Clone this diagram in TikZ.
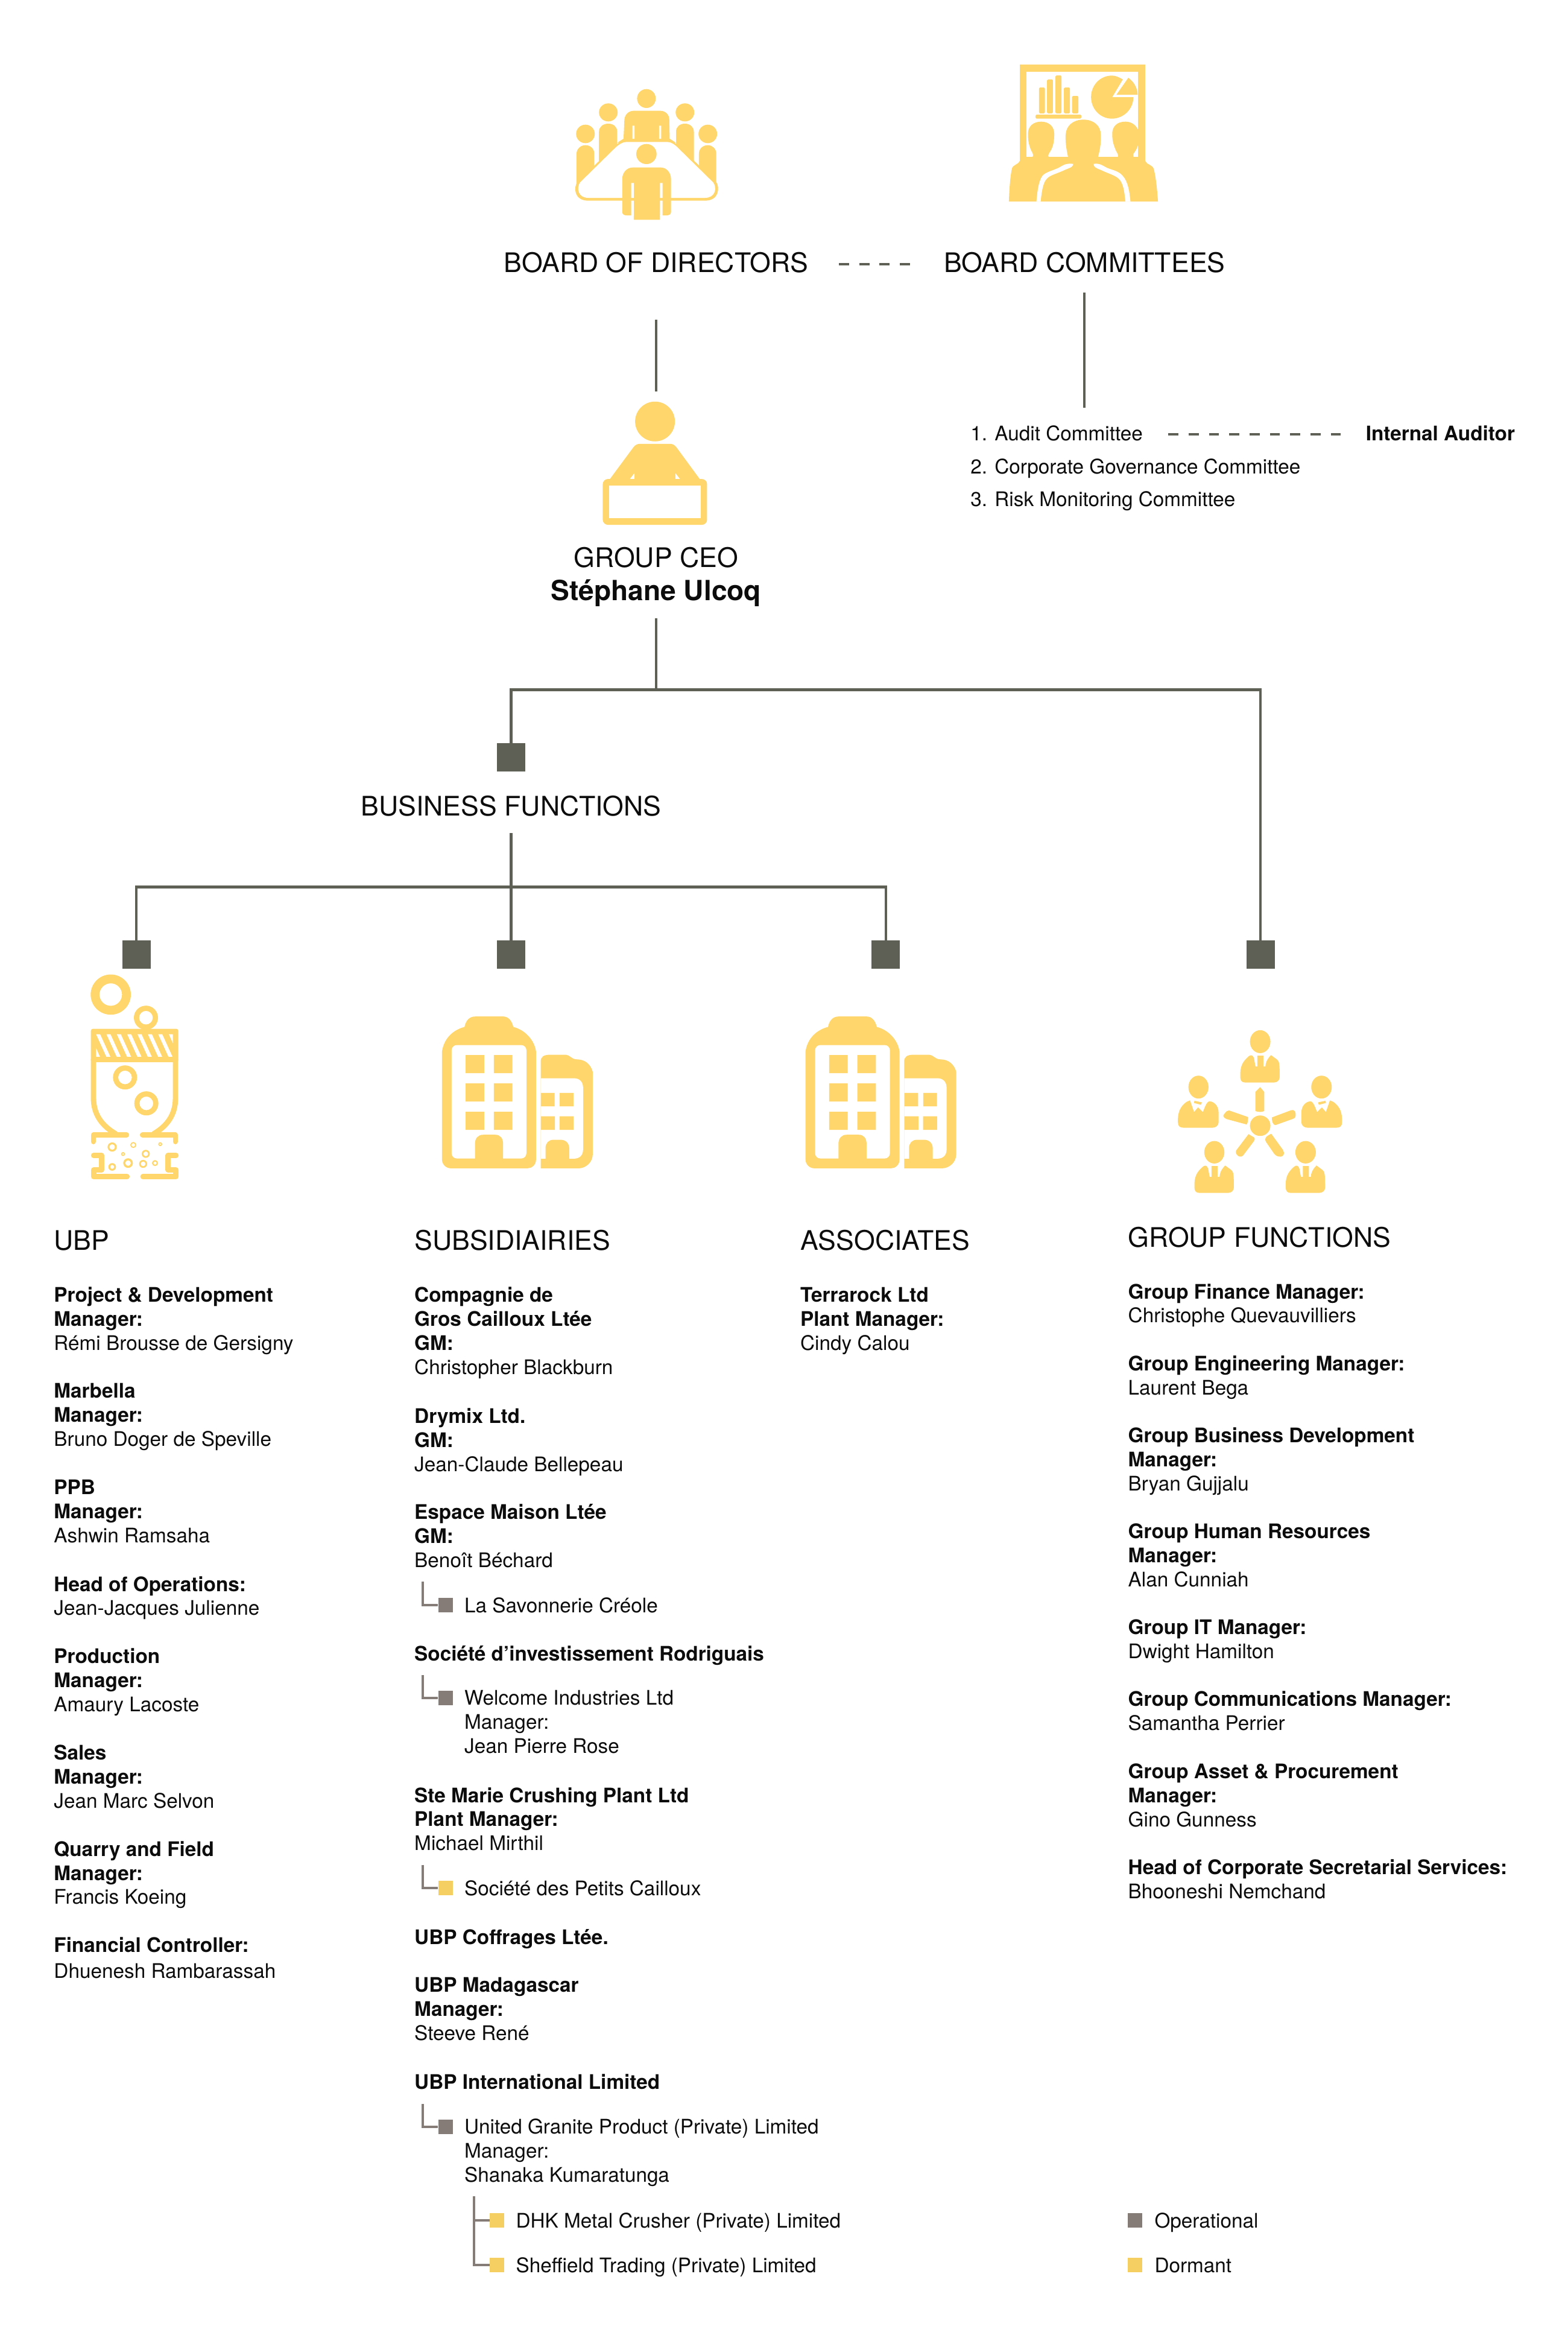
\documentclass[tikz,border=0pt]{standalone}
\usepackage{fontspec}
\setmainfont{TeX Gyre Heros}
\definecolor{iconc}{HTML}{FFD66B}
\definecolor{linec}{HTML}{5F6055}
\definecolor{opc}{HTML}{857C78}
\definecolor{dorc}{HTML}{F6CF62}
\definecolor{txtc}{HTML}{0C0C0C}
\tikzset{
  txt/.style={anchor=north west,inner sep=0pt,align=left,text=txtc,yshift=14pt,font={\fontsize{19.15}{22.93}\selectfont}},
  headtxt/.style={anchor=base west,inner sep=0pt,text=txtc,font={\fontsize{25.65}{29}\selectfont}},
  headc/.style={headtxt,anchor=base},
  conn/.style={draw=linec,line width=2.5pt},
  dashconn/.style={draw=linec,line width=2.3pt,dash pattern=on 9.67pt off 9.68pt},
  sub/.style={draw=opc,line width=2.3pt},
  bigsq/.style={fill=linec,inner sep=0pt,minimum size=27pt},
  opsq/.style={fill=opc,inner sep=0pt,minimum size=13.8pt},
  dorsq/.style={fill=dorc,inner sep=0pt,minimum size=13.8pt},
}
\newcommand{\blk}[4]{\node[txt] (#1) at (#2,{#3+4.8}) {\rule{0pt}{14pt}#4};}
\newcommand{\bl}[1]{\textbf{#1}}
\newcommand{\ringat}[4]{\fill[iconc,even odd rule] (#1,#2) circle[radius=#3] (#1,#2) circle[radius=#4];}
\newcommand{\suitA}[2]{\begin{scope}[shift={(#1,#2)}]
 \fill[iconc] (-98,110) .. controls (-100,60) and (-90,35) .. (-55,5) .. controls (-45,-3) and (-35,0) .. (-30,15) .. controls (-27,30) and (-25,45) .. (-22,57) -- (-13,57) -- (-13,3) -- (17,3) -- (17,57) -- (27,57) .. controls (27,40) and (35,20) .. (55,0) -- (85,22) .. controls (97,30) and (98,50) .. (98,110) .. controls (98,125) and (85,136) .. (70,136) -- (-75,136) .. controls (-90,136) and (-98,125) .. (-98,110) -- cycle;
\end{scope}}
\newcommand{\suitB}[3]{\begin{scope}[shift={(#1,#2)},xscale=#3]
 \fill[iconc] (-102,110) .. controls (-105,60) and (-90,30) .. (-60,8) -- (-42,0) -- (-22,58) -- (-2,35) -- (22,58) .. controls (30,40) and (40,5) .. (55,5) .. controls (75,5) and (100,25) .. (100,60) -- (100,110) .. controls (100,125) and (85,136) .. (70,136) -- (-75,136) .. controls (-95,136) and (-102,125) .. (-102,110) -- cycle;
 \fill[iconc] (-20,2) -- (17,10) -- (13,22) -- (-22,13) -- cycle;
\end{scope}}
\begin{document}
\begin{tikzpicture}[x=0.05cm,y=-0.05cm]
\useasboundingbox (0,0) rectangle (1050,1567.9);

% ---------- board of directors icon
\begin{scope}[shift={(362.95,32.32)},xscale=0.28368,yscale=0.13468]
 \fill[iconc] (247,250) ellipse[x radius=22,y radius=47];
 \fill[iconc] (157,319) ellipse[x radius=22,y radius=45];
 \fill[iconc] (338,319) ellipse[x radius=22,y radius=45];
 \fill[iconc] (103,426) ellipse[x radius=22,y radius=46];
 \fill[iconc] (392,426) ellipse[x radius=22,y radius=46];
 % back person
 \fill[iconc] (178,470) -- (193,450) -- (195,355) .. controls (196,330) and (205,311) .. (217,311) -- (280,311) .. controls (292,311) and (301,330) .. (301,355) -- (302,450) -- (317,470) -- cycle;
 \fill[white] (214,385) rectangle (219,450) (277,385) rectangle (282,450);
 % side persons
 \fill[iconc] (135,580) -- (135,415) .. controls (135,390) and (145,375) .. (157,375) .. controls (169,375) and (178,390) .. (178,415) -- (178,490) -- cycle;
 \fill[iconc] (359,580) -- (359,415) .. controls (359,390) and (349,375) .. (338,375) .. controls (326,375) and (317,390) .. (317,415) -- (317,490) -- cycle;
 \fill[iconc] (82,690) -- (82,525) .. controls (82,500) and (92,482) .. (103,482) .. controls (115,482) and (124,500) .. (124,525) -- (124,600) -- cycle;
 \fill[iconc] (412,690) -- (412,525) .. controls (412,500) and (403,482) .. (392,482) .. controls (380,482) and (371,500) .. (371,525) -- (371,600) -- cycle;
 % table
 \fill[iconc] (200,459) -- (296,459) .. controls (310,459) and (318,475) .. (325,490) -- (412,665) .. controls (420,690) and (420,758) .. (385,758) -- (110,758) .. controls (75,758) and (75,690) .. (84,665) -- (170,490) .. controls (178,475) and (186,459) .. (200,459) -- cycle;
 \fill[white] (200,466) -- (296,466) .. controls (306,466) and (314,480) .. (320,492) -- (405,668) .. controls (414,695) and (410,744) .. (385,744) -- (110,744) .. controls (85,744) and (82,695) .. (90,668) -- (175,492) .. controls (182,480) and (190,466) .. (200,466) -- cycle;
 % front person
 \fill[iconc] (247,526) ellipse[x radius=24,y radius=50];
 \fill[iconc] (190,815) -- (190,650) .. controls (190,620) and (200,593) .. (215,593) -- (281,593) .. controls (295,593) and (305,620) .. (305,650) -- (305,815) .. controls (305,826) and (300,831) .. (295,831) -- (279,831) -- (279,853) -- (217,853) -- (217,831) -- (200,831) .. controls (195,831) and (190,826) .. (190,815) -- cycle;
 \fill[white] (211,670) rectangle (217,744) (279,670) rectangle (285,744) (211,758) rectangle (217,834) (279,758) rectangle (285,834);
\end{scope}

% ---------- board committees icon
\begin{scope}[shift={(362.95,32.32)},xscale=0.28368,yscale=0.13468]
 \fill[iconc] (1129,82) rectangle (1425,578);
 \fill[white] (1144,117) rectangle (1408,540);
 \fill[iconc] (1103,762) .. controls (1104,700) and (1106,640) .. (1110,600) .. controls (1112,578) and (1125,580) .. (1129,560) -- (1425,560) .. controls (1428,580) and (1442,578) .. (1445,600) .. controls (1450,640) and (1453,700) .. (1455,762) -- cycle;
 \fill[iconc] (1158,545) .. controls (1162,530) and (1160,525) .. (1156,510) .. controls (1150,480) and (1148,460) .. (1148,425) .. controls (1148,390) and (1160,365) .. (1179,365) .. controls (1198,365) and (1210,390) .. (1210,425) .. controls (1210,460) and (1208,490) .. (1200,515) .. controls (1195,530) and (1195,535) .. (1198,545) -- cycle;
 \fill[iconc] (1243,545) .. controls (1240,510) and (1236,480) .. (1237,430) .. controls (1238,385) and (1255,355) .. (1279,355) .. controls (1303,355) and (1320,385) .. (1320,430) .. controls (1321,480) and (1317,510) .. (1313,545) -- cycle;
 \fill[iconc] (1360,545) .. controls (1362,530) and (1360,525) .. (1356,510) .. controls (1350,480) and (1347,460) .. (1347,425) .. controls (1347,390) and (1358,365) .. (1378,365) .. controls (1392,365) and (1402,380) .. (1408,405) -- (1408,480) .. controls (1405,505) and (1400,515) .. (1397,525) .. controls (1396,535) and (1397,540) .. (1398,545) -- cycle;
 \fill[white] (1255,575) .. controls (1235,570) and (1230,585) .. (1220,595) .. controls (1205,610) and (1190,615) .. (1182,635) .. controls (1172,665) and (1170,720) .. (1168,762) -- (1178,762) .. controls (1180,720) and (1183,670) .. (1192,650) .. controls (1200,630) and (1215,625) .. (1235,605) .. controls (1250,592) and (1254,590) .. (1255,575) -- cycle;
 \fill[white] (1303,575) .. controls (1318,570) and (1325,585) .. (1335,595) .. controls (1350,608) and (1362,610) .. (1372,635) .. controls (1385,665) and (1388,720) .. (1390,762) -- (1378,762) .. controls (1376,720) and (1374,670) .. (1362,648) .. controls (1352,630) and (1340,625) .. (1320,605) .. controls (1308,595) and (1303,590) .. (1303,575) -- cycle;
 \foreach \a/\b/\c in {1174/1188/195,1193/1207/155,1213/1227/135,1233/1247/195,1252/1267/237} {\fill[iconc,rounded corners=1pt] (\a,\c) rectangle (\b,324);}
 \fill[iconc,rounded corners=1pt] (1166,330) rectangle (1274,350);
 \fill[iconc] (1347,243) -- (1372,155) .. controls (1362,143) and (1355,136) .. (1346,136) .. controls (1318,136) and (1297,185) .. (1297,243) .. controls (1297,300) and (1318,350) .. (1346,350) .. controls (1375,350) and (1397,300) .. (1397,243) -- cycle;
 \fill[iconc] (1357,231) -- (1385,147) .. controls (1398,165) and (1407,200) .. (1407,231) -- cycle;
\end{scope}

% ---------- CEO icon
\begin{scope}[shift={(383.84,258.59)},scale=0.13468]
 \fill[iconc] (408,176) circle[radius=99];
 \fill[iconc] (178,470) -- (300,305) .. controls (310,292) and (320,287) .. (335,287) -- (480,287) .. controls (495,287) and (505,292) .. (515,305) -- (636,470) -- cycle;
 \fill[white] (283,462) -- (305,462) -- (305,434) -- cycle;
 \fill[white] (510,462) -- (532,462) -- (510,434) -- cycle;
 \fill[iconc,rounded corners=5pt] (148,462) rectangle (667,690);
 \fill[white] (180,495) rectangle (636,657);
\end{scope}

% ---------- UBP icon
\begin{scope}[shift={(48.48,646.46)},scale=0.13468]
 \ringat{191}{146}{100}{56}
 \ringat{366}{261}{60}{34}
 \ringat{262}{558}{60}{34}
 \ringat{368}{687}{60}{34}
 \ringat{198}{904}{23}{14}
 \ringat{303}{894}{15}{9}
 \ringat{437}{890}{10}{5}
 \ringat{252}{939}{10}{5}
 \ringat{365}{938}{20}{12}
 \ringat{277}{984}{24}{14}
 \ringat{352}{988}{20}{12}
 \ringat{411}{984}{15}{8}
 \ringat{198}{1003}{19}{10}
 \fill[iconc,rounded corners=2pt] (92,316) rectangle (527,482);
 \foreach \i in {0,...,6} {\fill[white] ({118+51.5*\i},343) -- ({138+51.5*\i},343) -- ({189+51.5*\i},455) -- ({169+51.5*\i},455) -- cycle;}
 \fill[white] (480,343) -- (500,343) -- (500,388) -- cycle;
 \fill[white] (118,412) -- (137,455) -- (118,455) -- cycle;
 \begin{scope}[iconc,line width=5.1pt,line cap=round,line join=round]
  \draw (105,470) -- (105,660) .. controls (105,745) and (150,800) .. (215,838);
  \draw (513,470) -- (513,660) .. controls (513,745) and (470,800) .. (405,838);
  \draw (105,877) -- (105,844) -- (269,844);
  \draw (513,877) -- (513,844) -- (349,844);
  \draw (106,946) -- (146,946) -- (146,1018) -- (106,1018) -- (106,1052) -- (272,1052);
  \draw (515,946) -- (476,946) -- (476,1018) -- (515,1018) -- (515,1052) -- (351,1052);
 \end{scope}
\end{scope}

% ---------- building icons
\foreach \dx in {0,243.5} {
\begin{scope}[shift={({282.6+\dx},670.71)},scale=0.13468]
 \fill[iconc] (100,785) -- (100,250) .. controls (110,180) and (160,140) .. (212,127) .. controls (220,90) and (240,75) .. (265,75) -- (405,75) .. controls (430,75) and (447,95) .. (455,127) .. controls (510,140) and (560,190) .. (568,250) -- (568,785) .. controls (568,815) and (545,830) .. (525,830) -- (145,830) .. controls (120,830) and (100,810) .. (100,785) -- cycle;
 \fill[white,rounded corners=5pt] (148,217) rectangle (520,781);
 \fill[iconc] (264,785) -- (264,710) .. controls (264,680) and (280,663) .. (305,663) -- (365,663) .. controls (390,663) and (404,680) .. (404,710) -- (404,785) -- cycle;
 \fill[iconc] (218,267) rectangle (310,357) (358,267) rectangle (450,357) (218,408) rectangle (310,498) (358,408) rectangle (450,498) (218,549) rectangle (310,639) (358,549) rectangle (450,639);
 \fill[iconc] (591,830) -- (591,300) .. controls (591,275) and (605,265) .. (640,265) -- (715,265) .. controls (735,265) and (745,288) .. (770,288) .. controls (815,288) and (840,315) .. (850,350) -- (850,760) .. controls (850,800) and (815,830) .. (780,830) -- cycle;
 \fill[white] (591,382) -- (755,382) .. controls (785,382) and (802,400) .. (802,430) -- (802,735) .. controls (802,765) and (785,782) .. (755,782) -- (591,782) -- cycle;
 \fill[iconc] (615,785) -- (615,730) .. controls (615,705) and (630,688) .. (655,688) -- (690,688) .. controls (715,688) and (733,705) .. (733,730) -- (733,785) -- cycle;
 \fill[iconc] (592,455) rectangle (660,522) (686,455) rectangle (754,522) (592,571) rectangle (662,639) (685,571) rectangle (755,639);
\end{scope}
}

% ---------- group functions icon
\begin{scope}[shift={(783.3,682.83)},scale=0.13468]
 \fill[iconc] (452,110) ellipse[x radius=51,y radius=57];
 \fill[iconc] (145,336) ellipse[x radius=50,y radius=57];
 \fill[iconc] (757,336) ellipse[x radius=51,y radius=57];
 \fill[iconc] (224,660) ellipse[x radius=50,y radius=56];
 \fill[iconc] (678,660) ellipse[x radius=51,y radius=56];
 \suitA{451}{177}
 \suitB{145}{402}{1}
 \suitB{757}{402}{-1}
 \suitA{223}{726}
 \suitA{677}{726}
 \fill[iconc] (452,528) circle[radius=51];
 \fill[iconc] (428,455) -- (428,360) -- (452,336) -- (472,360) -- (472,455) .. controls (460,462) and (440,460) .. (428,455) -- cycle;
 \fill[iconc] (297,452) -- (392,485) .. controls (392,500) and (390,515) .. (385,522) -- (285,495) .. controls (265,485) and (265,478) .. (275,468) .. controls (282,458) and (288,452) .. (297,452) -- cycle;
 \fill[iconc] (510,487) -- (603,452) .. controls (625,445) and (630,460) .. (628,480) .. controls (626,490) and (620,492) .. (615,494) -- (528,525) .. controls (515,525) and (510,505) .. (510,487) -- cycle;
 \fill[iconc] (394,570) -- (420,585) .. controls (428,592) and (425,600) .. (420,606) -- (368,675) .. controls (355,692) and (325,675) .. (332,652) -- cycle;
 \fill[iconc] (507,568) -- (565,648) .. controls (575,665) and (570,680) .. (555,682) .. controls (540,682) and (530,678) .. (522,668) -- (482,610) .. controls (470,590) and (480,582) .. (507,568) -- cycle;
\end{scope}

% ---------- large squares
\node[bigsq] (sqbf) at (342.4,507.3) {};
\node[bigsq] (squbp) at (91.4,639.3) {};
\node[bigsq] (sqsub) at (342.4,639.3) {};
\node[bigsq] (sqass) at (593.4,639.3) {};
\node[bigsq] (sqgf) at (844.4,639.3) {};

% ---------- headings
\node[headc] (bod) at (439.5,182.3) {BOARD OF DIRECTORS};
\node[headc] (bc) at (726.5,182.3) {BOARD COMMITTEES};
\node[headc] (ceo) at (439.5,379.8) {GROUP CEO};
\node[headc] (ceoname) at (439.5,402) {\fontsize{26.5}{29}\selectfont\textbf{Stéphane Ulcoq}};
\node[headc] (bf) at (342.4,546.3) {BUSINESS FUNCTIONS};
\node[headtxt] (ubp) at (36,837.3) {UBP};
\node[headtxt] (subs) at (277.5,837.3) {SUBSIDIAIRIES};
\node[headtxt] (assoc) at (536,837.3) {ASSOCIATES};
\node[headtxt] (gf) at (755.6,835.3) {GROUP FUNCTIONS};

% ---------- connectors
\coordinate (a1) at (439.5,214); \coordinate (a2) at (439.5,262);
\coordinate (b1) at (726.5,196); \coordinate (b2) at (726.5,273);
\coordinate (c1) at (439.5,414); \coordinate (c2) at (439.5,462);
\coordinate (d1) at (342.4,558); \coordinate (d2) at (342.4,594);
\coordinate (e1) at (562,177); \coordinate (e2) at (609.5,177);
\coordinate (f1) at (782.6,290.7); \coordinate (f2) at (898.2,290.7);
\draw[conn] (a1) -- (a2);
\draw[conn] (b1) -- (b2);
\draw[conn] (c1) -- (c2);
\draw[conn,line join=miter] (sqbf.north) |- (c2) -| (sqgf.north);
\draw[conn] (d1) -- (sqsub.north);
\draw[conn,line join=miter] (squbp.north) |- (d2) -| (sqass.north);
\draw[dashconn] (e1) -- (e2);
\draw[dashconn] (f1) -- (f2);

% ---------- committees
\blk{cm1}{650}{290}{1. Audit Committee}
\blk{cm2}{650}{312}{2. Corporate Governance Committee}
\blk{cm3}{650}{334}{3. Risk Monitoring Committee}
\blk{ia}{914.8}{290}{\bl{Internal Auditor}}

% ---------- UBP column
\blk{u1}{36}{867}{\bl{Project \& Development}\\\bl{Manager:}\\Rémi Brousse de Gersigny}
\blk{u2}{36}{931.5}{\bl{Marbella}\\\bl{Manager:}\\Bruno Doger de Speville}
\blk{u3}{36}{996}{\bl{PPB}\\\bl{Manager:}\\Ashwin Ramsaha}
\blk{u4}{36}{1060.6}{\bl{Head of Operations:}\\Jean-Jacques Julienne}
\blk{u5}{36}{1109}{\bl{Production}\\\bl{Manager:}\\Amaury Lacoste}
\blk{u6}{36}{1173.5}{\bl{Sales}\\\bl{Manager:}\\Jean Marc Selvon}
\blk{u7}{36}{1238}{\bl{Quarry and Field}\\\bl{Manager:}\\Francis Koeing}
\blk{u8}{36}{1302.2}{\bl{Financial Controller:}}
\blk{u8b}{36}{1320}{Dhuenesh Rambarassah}

% ---------- subsidiaries column
\blk{s1}{277.5}{867}{\bl{Compagnie de}\\\bl{Gros Cailloux Ltée}\\\bl{GM:}\\Christopher Blackburn}
\blk{s2}{277.5}{948}{\bl{Drymix Ltd.}\\\bl{GM:}\\Jean-Claude Bellepeau}
\blk{s3}{277.5}{1012.2}{\bl{Espace Maison Ltée}\\\bl{GM:}\\Benoît Béchard}
\blk{s3a}{311}{1075}{La Savonnerie Créole}
\blk{s4}{277.5}{1107}{\bl{Société d’investissement Rodriguais}}
\blk{s4a}{311}{1137}{Welcome Industries Ltd\\Manager:\\Jean Pierre Rose}
\blk{s5}{277.5}{1202}{\bl{Ste Marie Crushing Plant Ltd}\\\bl{Plant Manager:}\\Michael Mirthil}
\blk{s5a}{311}{1264.3}{Société des Petits Cailloux}
\blk{s6}{277.5}{1297}{\bl{UBP Coffrages Ltée.}}
\blk{s7}{277.5}{1329.3}{\bl{UBP Madagascar}\\\bl{Manager:}\\Steeve René}
\blk{s8}{277.5}{1394}{\bl{UBP International Limited}}
\blk{s8a}{311}{1424}{United Granite Product (Private) Limited\\Manager:\\Shanaka Kumaratunga}
\blk{s8b}{345.5}{1487}{DHK Metal Crusher (Private) Limited}
\blk{s8c}{345.5}{1517}{Sheffield Trading (Private) Limited}

% ---------- subsidiaries tree marks
\node[opsq] (q3) at (298.4,1074.9) {};
\node[opsq] (q4) at (298.4,1137.3) {};
\node[dorsq] (q5) at (298.4,1264.5) {};
\node[opsq] (q8) at (298.4,1424.3) {};
\node[dorsq] (q8b) at (333,1487) {};
\node[dorsq] (q8c) at (333,1517) {};
\coordinate (t3) at (283.2,1059.4);
\coordinate (t4) at (283.2,1122);
\coordinate (t5) at (283.2,1249);
\coordinate (t8) at (283.2,1409);
\coordinate (t8b) at (317.7,1471);
\coordinate (t8j) at (317.7,1487);
\draw[sub] (t3) |- (q3);
\draw[sub] (t4) |- (q4);
\draw[sub] (t5) |- (q5);
\draw[sub] (t8) |- (q8);
\draw[sub] (t8b) |- (q8c);
\draw[sub] (t8j) -- (q8b);

% ---------- associates
\blk{a1t}{536}{867}{\bl{Terrarock Ltd}\\\bl{Plant Manager:}\\Cindy Calou}

% ---------- group functions
\blk{g1}{755.6}{864.7}{\bl{Group Finance Manager:}\\Christophe Quevauvilliers}
\blk{g2}{755.6}{912.9}{\bl{Group Engineering Manager:}\\Laurent Bega}
\blk{g3}{755.6}{961}{\bl{Group Business Development}\\\bl{Manager:}\\Bryan Gujjalu}
\blk{g4}{755.6}{1025.2}{\bl{Group Human Resources}\\\bl{Manager:}\\Alan Cunniah}
\blk{g5}{755.6}{1089.5}{\bl{Group IT Manager:}\\Dwight Hamilton}
\blk{g6}{755.6}{1137.7}{\bl{Group Communications Manager:}\\Samantha Perrier}
\blk{g7}{755.6}{1186}{\bl{Group Asset \& Procurement}\\\bl{Manager:}\\Gino Gunness}
\blk{g8}{755.6}{1250.3}{\bl{Head of Corporate Secretarial Services:}\\Bhooneshi Nemchand}

% ---------- legend
\node[opsq] (lg1) at (760.3,1487) {};
\node[dorsq] (lg2) at (760.3,1517) {};
\blk{lg1t}{773.3}{1487}{Operational}
\blk{lg2t}{773.3}{1517}{Dormant}
\end{tikzpicture}
\end{document}
